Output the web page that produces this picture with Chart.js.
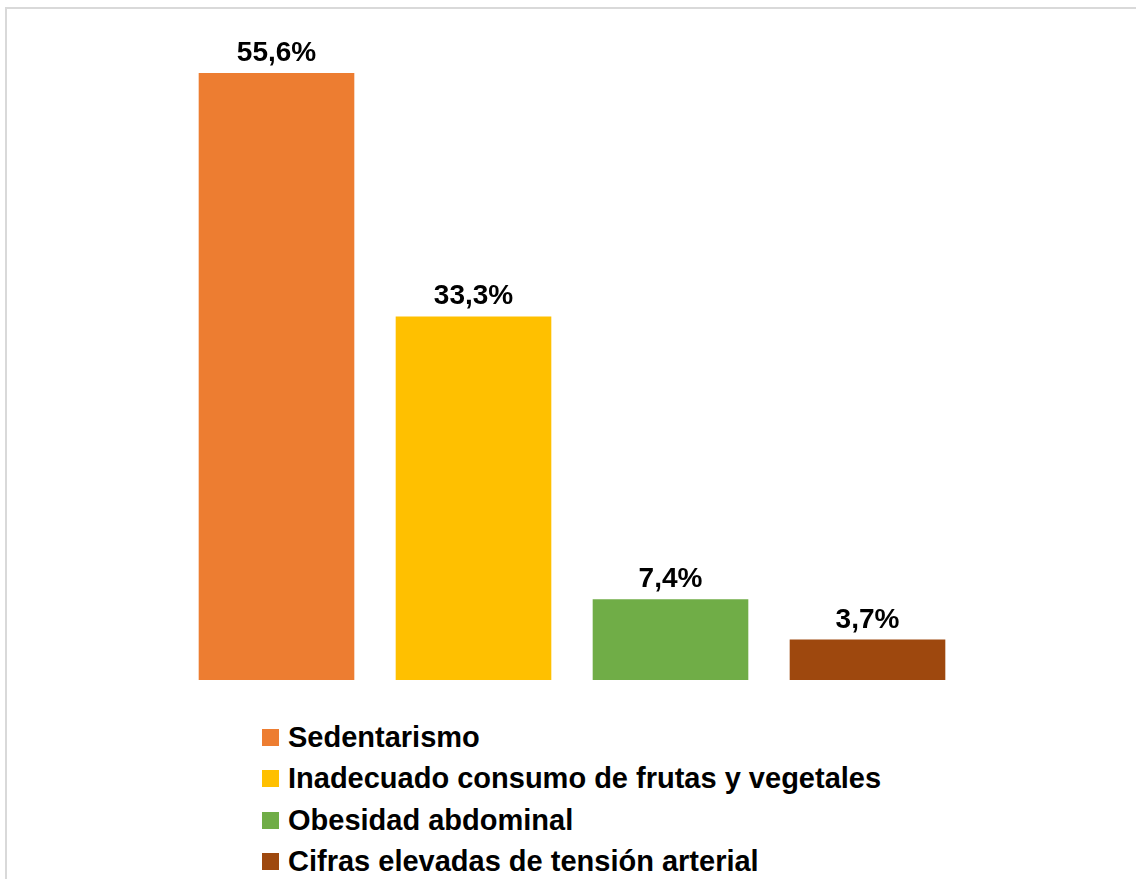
<!DOCTYPE html>
<html>
<head>
<meta charset="utf-8">
<script src="https://cdn.jsdelivr.net/npm/chart.js@4/dist/chart.umd.min.js"></script>
<style>
  html, body { margin: 0; padding: 0; background: #fff; }
  body { width: 1136px; height: 879px; position: relative; overflow: hidden; font-family: 'Liberation Sans', Arial, sans-serif; }
  .frame { position: absolute; left: 5px; top: 7px; width: 1140px; height: 900px; border: 2px solid #d9d9d9; box-sizing: border-box; }
  #chart { position: absolute; left: 0; top: 0; }
  #legend { position: absolute; left: 262px; top: 717px; }
  .item { display: flex; align-items: center; height: 41.3px; }
  .box { width: 17px; height: 17px; margin-right: 9px; }
  .txt { font-size: 29px; font-weight: bold; color: #000; line-height: 41px; white-space: nowrap; }
</style>
</head>
<body>
<div class="frame"></div>
<canvas id="chart" width="1136" height="700"></canvas>
<div id="legend"></div>
<script>
const categories = ['Sedentarismo', 'Inadecuado consumo de frutas y vegetales', 'Obesidad abdominal', 'Cifras elevadas de tensión arterial'];
const values = [55.6, 33.3, 7.4, 3.7];
const colors = ['#ED7D31', '#FFC000', '#70AD47', '#9E480E'];

const fmt = v => v.toFixed(1).replace('.', ',') + '%';

// labels above each bar
const barLabels = {
  id: 'barLabels',
  afterDatasetsDraw(chart) {
    const ctx = chart.ctx;
    ctx.save();
    ctx.font = 'bold 28px "Liberation Sans", Arial, sans-serif';
    ctx.fillStyle = '#000';
    ctx.textAlign = 'center';
    ctx.textBaseline = 'alphabetic';
    chart.data.datasets.forEach((ds, i) => {
      chart.getDatasetMeta(i).data.forEach((bar, j) => {
        ctx.fillText(fmt(ds.data[j]), bar.x, bar.y - 12);
      });
    });
    ctx.restore();
  }
};

new Chart(document.getElementById('chart'), {
  type: 'bar',
  data: {
    labels: [''],
    datasets: categories.map((c, i) => ({
      label: c,
      data: [values[i]],
      backgroundColor: colors[i],
      borderWidth: 0,
      barPercentage: 0.79,
      categoryPercentage: 1
    }))
  },
  options: {
    responsive: false,
    animation: false,
    layout: { padding: { left: 178, right: 170, top: 25, bottom: 20 } },
    plugins: { legend: { display: false }, tooltip: { enabled: false } },
    scales: {
      x: { display: false },
      y: { display: false, min: 0, max: 60 }
    }
  },
  plugins: [barLabels]
});

const legend = document.getElementById('legend');
categories.forEach((c, i) => {
  const row = document.createElement('div');
  row.className = 'item';
  row.innerHTML = '<span class="box" style="background:' + colors[i] + '"></span><span class="txt">' + c + '</span>';
  legend.appendChild(row);
});
</script>
</body>
</html>
